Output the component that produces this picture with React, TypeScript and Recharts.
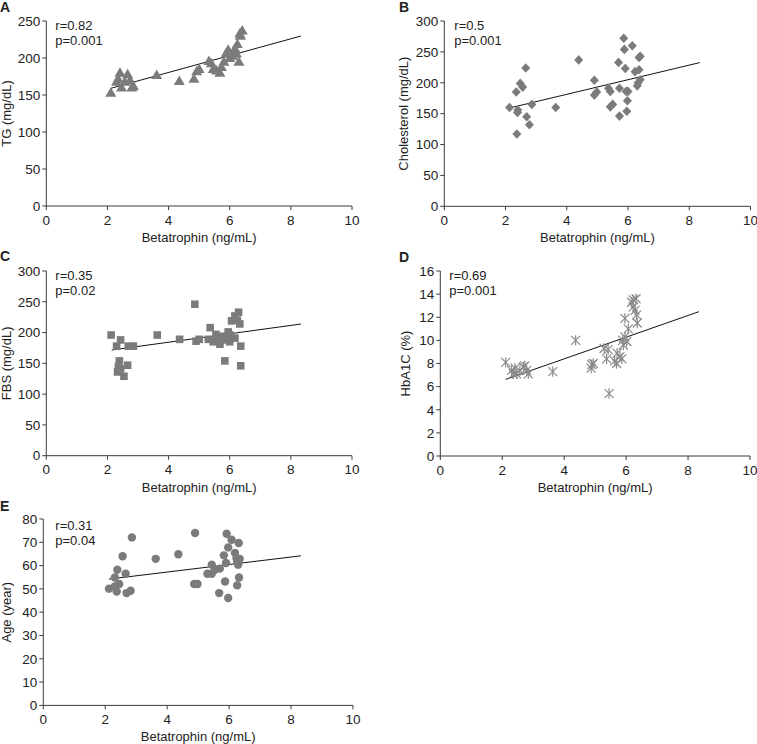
import React from "react";
import {
  ScatterChart,
  Scatter,
  XAxis,
  YAxis,
  ReferenceLine,
} from "recharts";

const FONT = "'Liberation Sans', Arial, sans-serif";
const MARK = "#7b7b7b";
const AXIS = "#3a3a3a";

const xTicks = [0, 2, 4, 6, 8, 10];

// A: TG
const tgX = [2.11, 2.41, 2.35, 2.3, 2.46, 2.66, 2.74, 2.85, 2.8, 2.57, 3.61, 4.35, 4.83, 4.92, 5.0, 5.32, 5.4, 5.46, 5.57, 5.68, 5.73, 5.81, 5.88, 5.95, 6.0, 6.1, 6.17, 6.25, 6.22, 6.3, 6.35, 6.41, 6.33];
const tgY = [153, 180, 172, 168, 160, 178, 170, 162, 160, 168, 177, 169, 172, 182, 185, 196, 193, 185, 183, 180, 188, 195, 206, 211, 200, 203, 213, 219, 206, 195, 230, 237, 233];
const tgLine = [{ x: 2.11, y: 159 }, { x: 8.33, y: 229.7 }];

// B: Cholesterol
const cholX = [2.13, 2.35, 2.39, 2.4, 2.37, 2.48, 2.56, 2.66, 2.69, 2.78, 2.86, 3.64, 4.39, 4.9, 4.9, 4.98, 5.36, 5.42, 5.42, 5.5, 5.69, 5.72, 5.72, 5.86, 5.88, 5.91, 5.94, 5.96, 5.98, 6.0, 6.14, 6.23, 6.3, 6.36, 6.36, 6.4, 6.4, 6.33];
const cholY = [160, 185, 152, 156, 117, 199, 193, 224, 145, 132, 165, 160, 237, 204, 180, 185, 191, 186, 161, 165, 233, 146, 191, 272, 254, 223, 186, 154, 171, 186, 260, 218, 195, 221, 241, 243, 205, 200];
const cholLine = [{ x: 2.2, y: 160 }, { x: 8.34, y: 232.6 }];

// C: FBS
const fbsX = [2.12, 2.3, 2.43, 2.39, 2.36, 2.33, 2.43, 2.54, 2.66, 2.68, 2.85, 3.63, 4.36, 4.86, 4.9, 5.0, 5.36, 5.3, 5.46, 5.55, 5.62, 5.68, 5.79, 5.88, 5.84, 5.95, 6.01, 6.06, 6.17, 6.25, 6.29, 6.33, 6.36, 6.36, 6.17, 6.0];
const fbsY = [196, 178, 188, 154, 145, 136, 141, 129, 147, 178, 178, 196, 189, 246, 186, 189, 208, 189, 185, 197, 189, 181, 194, 188, 154, 201, 196, 219, 227, 220, 233, 214, 178, 146, 191, 185];
const fbsLine = [{ x: 2.14, y: 171.6 }, { x: 8.33, y: 213.9 }];

// D: HbA1C
const hbX = [2.11, 2.3, 2.36, 2.41, 2.46, 2.57, 2.68, 2.73, 2.79, 2.84, 3.63, 4.37, 4.87, 4.89, 4.94, 5.29, 5.37, 5.42, 5.45, 5.63, 5.69, 5.71, 5.8, 5.86, 5.89, 5.91, 5.96, 5.96, 6.02, 6.07, 6.18, 6.23, 6.29, 6.32, 6.34, 6.36, 6.23];
const hbY = [8.1, 7.4, 7.1, 7.6, 7.1, 7.4, 7.7, 7.8, 7.4, 7.1, 7.3, 10.0, 7.6, 7.9, 8.0, 9.3, 8.4, 9.2, 5.4, 8.2, 8.0, 8.9, 8.6, 8.4, 10.0, 9.6, 10.3, 11.9, 9.9, 11.0, 13.3, 13.5, 12.6, 13.6, 12.2, 11.5, 12.9];
const hbLine = [{ x: 2.11, y: 6.63 }, { x: 8.35, y: 12.48 }];

// E: Age
const ageX = [2.12, 2.31, 2.37, 2.39, 2.45, 2.31, 2.56, 2.66, 2.69, 2.82, 2.86, 3.63, 4.36, 4.9, 4.87, 4.98, 5.3, 5.44, 5.44, 5.54, 5.68, 5.7, 5.83, 5.87, 5.9, 5.92, 5.97, 5.97, 6.08, 6.19, 6.24, 6.26, 6.29, 6.31, 6.32, 6.34, 6.26];
const ageY = [50.1, 54.9, 48.9, 58.2, 52.1, 51.1, 64, 56.5, 48.2, 49.2, 72.1, 62.9, 64.9, 74, 52.1, 52.1, 56.5, 60.4, 56.5, 58.2, 48.2, 58.7, 64.4, 53.2, 61.1, 73.7, 67.8, 46.1, 71.1, 65.4, 63.2, 51.5, 60.4, 69.7, 54.9, 62.9, 61.8];
const ageLine = [{ x: 2.12, y: 54.2 }, { x: 8.32, y: 64.2 }];

const toPoints = (xs: number[], ys: number[]) => xs.map((x, i) => ({ x, y: ys[i] }));

const Triangle = (p: any) => (
  <polygon
    points={`${p.cx},${p.cy - 5.5} ${p.cx - 5.5},${p.cy + 4} ${p.cx + 5.5},${p.cy + 4}`}
    fill={MARK}
  />
);
const Diamond = (p: any) => (
  <polygon
    points={`${p.cx},${p.cy - 4.8} ${p.cx + 4.5},${p.cy} ${p.cx},${p.cy + 4.8} ${p.cx - 4.5},${p.cy}`}
    fill={MARK}
  />
);
const Square = (p: any) => <rect x={p.cx - 3.8} y={p.cy - 3.8} width={7.6} height={7.6} fill={MARK} />;
const Dot = (p: any) => <circle cx={p.cx} cy={p.cy} r={4.2} fill={MARK} />;
const Asterisk = (p: any) => (
  <g stroke="#8a8a8a" strokeWidth={1.2}>
    <line x1={p.cx} y1={p.cy - 5.2} x2={p.cx} y2={p.cy + 5.2} />
    <line x1={p.cx - 4.5} y1={p.cy - 4.5} x2={p.cx + 4.5} y2={p.cy + 4.5} />
    <line x1={p.cx - 4.5} y1={p.cy + 4.5} x2={p.cx + 4.5} y2={p.cy - 4.5} />
  </g>
);

type PanelProps = {
  letter: string;
  boxLeft: number;
  plotLeft: number;
  plotRight: number;
  plotTop: number;
  plotBottom: number;
  yLabelX: number;
  yLabel: string;
  yMax: number;
  yStep: number;
  data: { x: number; y: number }[];
  line: { x: number; y: number }[];
  shape: any;
  r: string;
  p: string;
  noteDx: number;
  noteDy: number;
};

function Panel(props: PanelProps) {
  const topMargin = 15;
  const xAxisH = 37;
  const bottomMargin = 8;
  const rightMargin = 8;
  const yW = props.plotLeft - props.boxLeft;
  const width = props.plotRight - props.boxLeft + rightMargin;
  const height = topMargin + (props.plotBottom - props.plotTop) + xAxisH + bottomMargin;
  const yTicks: number[] = [];
  for (let v = 0; v <= props.yMax; v += props.yStep) yTicks.push(v);
  const tick = { fill: "#222", fontSize: 13.5, fontFamily: FONT };
  return (
    <div style={{ position: "absolute", left: props.boxLeft, top: props.plotTop - topMargin }}>
      <ScatterChart width={width} height={height} margin={{ top: topMargin, right: rightMargin, bottom: bottomMargin, left: 0 }}>
        <XAxis
          type="number"
          dataKey="x"
          domain={[0, 10]}
          ticks={xTicks}
          height={xAxisH}
          tickSize={4}
          tickMargin={5}
          stroke={AXIS}
          tick={tick}
          label={{ value: "Betatrophin (ng/mL)", position: "insideBottom", offset: 1, fill: "#222", fontSize: 13, fontFamily: FONT }}
        />
        <YAxis
          type="number"
          dataKey="y"
          domain={[0, props.yMax]}
          ticks={yTicks}
          width={yW}
          tickSize={4}
          tickMargin={2}
          stroke={AXIS}
          tick={tick}
          label={{
            value: props.yLabel,
            angle: -90,
            position: "insideLeft",
            offset: props.yLabelX - props.boxLeft,
            fill: "#222",
            fontSize: 13,
            fontFamily: FONT,
            style: { textAnchor: "middle" },
          }}
        />
        <Scatter data={props.data} shape={props.shape} isAnimationActive={false} />
        <ReferenceLine segment={props.line} stroke="#111" strokeWidth={1} />
      </ScatterChart>
    </div>
  );
}

const panels: PanelProps[] = [
  { letter: "A", boxLeft: 0, plotLeft: 46.3, plotRight: 352, plotTop: 21, plotBottom: 206, yLabelX: 6.5, yLabel: "TG (mg/dL)", yMax: 250, yStep: 50, data: toPoints(tgX, tgY), line: tgLine, shape: Triangle, r: "r=0.82", p: "p=0.001", noteDx: 9, noteDy: 4 },
  { letter: "B", boxLeft: 390, plotLeft: 444.3, plotRight: 750.5, plotTop: 21, plotBottom: 206.3, yLabelX: 403, yLabel: "Cholesterol (mg/dL)", yMax: 300, yStep: 50, data: toPoints(cholX, cholY), line: cholLine, shape: Diamond, r: "r=0.5", p: "p=0.001", noteDx: 10, noteDy: 4 },
  { letter: "C", boxLeft: 0, plotLeft: 46.3, plotRight: 352, plotTop: 271, plotBottom: 455.7, yLabelX: 6.5, yLabel: "FBS (mg/dL)", yMax: 300, yStep: 50, data: toPoints(fbsX, fbsY), line: fbsLine, shape: Square, r: "r=0.35", p: "p=0.02", noteDx: 9, noteDy: 4 },
  { letter: "D", boxLeft: 390, plotLeft: 440.3, plotRight: 750, plotTop: 271, plotBottom: 456, yLabelX: 405, yLabel: "HbA1C (%)", yMax: 16, yStep: 2, data: toPoints(hbX, hbY), line: hbLine, shape: Asterisk, r: "r=0.69", p: "p=0.001", noteDx: 9, noteDy: 4 },
  { letter: "E", boxLeft: 0, plotLeft: 43.3, plotRight: 353, plotTop: 519.3, plotBottom: 705.7, yLabelX: 6.5, yLabel: "Age (year)", yMax: 80, yStep: 10, data: toPoints(ageX, ageY), line: ageLine, shape: Dot, r: "r=0.31", p: "p=0.04", noteDx: 12, noteDy: 6 },
];

const letterPos: Record<string, [number, number]> = {
  A: [0, 12],
  B: [399, 12],
  C: [0, 261],
  D: [399, 262],
  E: [0, 511],
};

export default function App() {
  return (
    <div style={{ position: "absolute", left: 0, top: 0, width: 757, height: 744, background: "#fff", overflow: "hidden" }}>
      {panels.map((pp) => (
        <Panel key={pp.letter} {...pp} />
      ))}
      <svg width={757} height={744} style={{ position: "absolute", left: 0, top: 0, pointerEvents: "none" }}>
        {panels.map((pp) => (
          <g key={pp.letter} fontFamily={FONT} fill="#222">
            <text x={letterPos[pp.letter][0]} y={letterPos[pp.letter][1]} fontSize={14} fontWeight="bold">
              {pp.letter}
            </text>
            <text x={pp.plotLeft + pp.noteDx} y={pp.plotTop + pp.noteDy + 4.5} fontSize={13}>
              {pp.r}
            </text>
            <text x={pp.plotLeft + pp.noteDx} y={pp.plotTop + pp.noteDy + 19.5} fontSize={13}>
              {pp.p}
            </text>
          </g>
        ))}
      </svg>
    </div>
  );
}
